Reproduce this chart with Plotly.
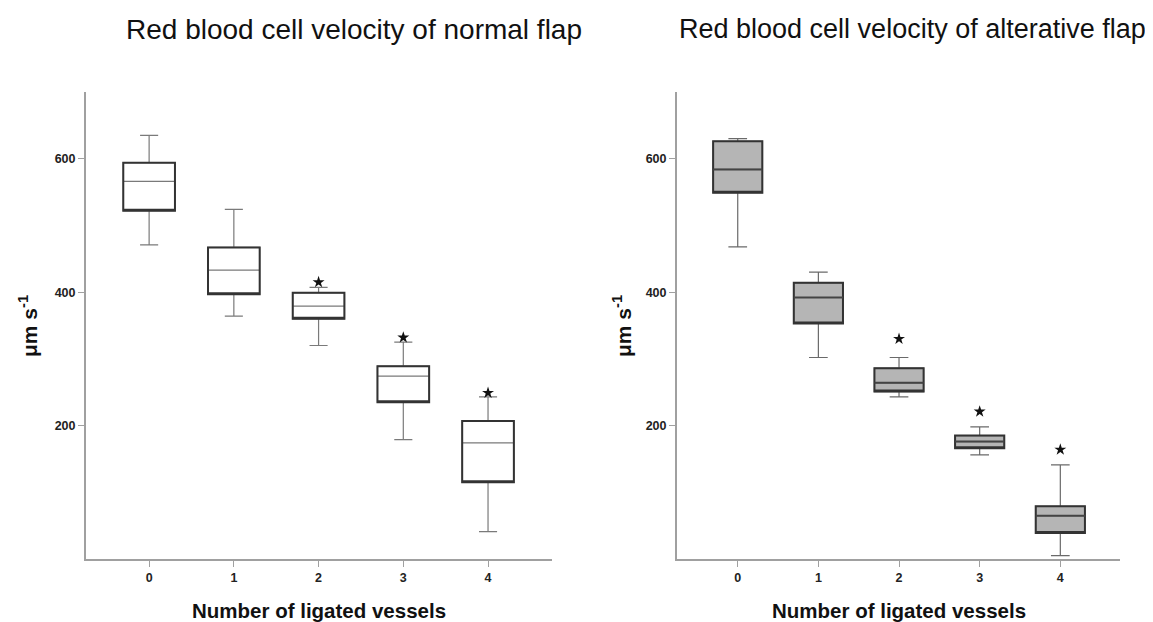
import plotly.graph_objects as go

categories = [0, 1, 2, 3, 4]

# Normal flap (left)
normal_upper = [635, 524, 407, 325, 243]
normal_q3 = [594, 467, 399, 289, 207]
normal_median = [566, 433, 379, 274, 174]
normal_q1 = [522, 397, 360, 235, 115]
normal_lower = [471, 364, 320, 179, 41]
normal_star_x = [2, 3, 4]
normal_star_y = [415, 332, 249]

# Alternative flap (right)
alt_upper = [630, 430, 302, 198, 141]
alt_q3 = [626, 414, 286, 185, 79]
alt_median = [584, 392, 264, 176, 65]
alt_q1 = [549, 353, 251, 166, 39]
alt_lower = [468, 302, 243, 156, 5]
alt_star_x = [2, 3, 4]
alt_star_y = [330, 221, 164]

titles = ["Red blood cell velocity of normal flap", "Red blood cell velocity of alterative flap"]
x_title = "Number of ligated vessels"
y_title = "μm s<sup>-1</sup>"

fig = go.Figure()

def add_panel(xa, ya, q1, med, q3, lo, hi, fill, whisk_col, med_col, sx, sy, ww):
    fig.add_trace(go.Box(
        x=categories, q1=q1, median=med, q3=q3, lowerfence=lo, upperfence=hi,
        fillcolor=fill, line=dict(color=whisk_col, width=1.2), width=0.61,
        whiskerwidth=ww, boxpoints=False, xaxis=xa, yaxis=ya, showlegend=False,
        hoverinfo="skip"))
    fig.add_trace(go.Box(
        x=categories, q1=q1, median=q1, q3=q3, lowerfence=q1, upperfence=q3,
        fillcolor="rgba(0,0,0,0)", line=dict(color="#333333", width=2), width=0.61,
        whiskerwidth=0, boxpoints=False, xaxis=xa, yaxis=ya, showlegend=False,
        hoverinfo="skip"))
    if med_col is not None:
        fig.add_trace(go.Box(
            x=categories, q1=med, median=med, q3=med, lowerfence=med, upperfence=med,
            fillcolor="rgba(0,0,0,0)", line=dict(color=med_col, width=2), width=0.61,
            whiskerwidth=0, boxpoints=False, xaxis=xa, yaxis=ya, showlegend=False,
            hoverinfo="skip"))
    fig.add_trace(go.Scatter(
        x=sx, y=sy, mode="markers", marker=dict(symbol="star", size=9, color="#111111"),
        xaxis=xa, yaxis=ya, showlegend=False, hoverinfo="skip"))

add_panel("x", "y", normal_q1, normal_median, normal_q3, normal_lower, normal_upper,
          "white", "#7a7a7a", None, normal_star_x, normal_star_y, 0.35)
add_panel("x2", "y2", alt_q1, alt_median, alt_q3, alt_lower, alt_upper,
          "#b5b5b5", "#6a6a6a", "#444444", alt_star_x, alt_star_y, 0.38)

OFF = 8  # page offset of the figure
W, H = 1145, 614

def px(x):
    return (x - OFF) / W

def py(y):
    return 1 - (y - OFF) / H

ydom = [py(559), py(92)]
axis_common = dict(showgrid=False, zeroline=False, showline=True, linecolor="#a0a0a0",
                   linewidth=2, ticks="outside", ticklen=6, tickcolor="#a0a0a0", tickwidth=1.2,
                   tickfont=dict(family="Liberation Sans, Arial", size=12.5, color="#222222", weight="bold"),
                   automargin=False)

fig.update_layout(
    width=W, height=H,
    margin=dict(l=0, r=0, t=0, b=0),
    plot_bgcolor="white", paper_bgcolor="white",
    boxmode="overlay",
    xaxis=dict(domain=[px(86), px(552)], range=[-0.745, 4.755], tickvals=categories,
               ticktext=[str(c) for c in categories], anchor="y", **axis_common),
    yaxis=dict(domain=ydom, range=[0, 700], tickvals=[200, 400, 600], anchor="x", **axis_common),
    xaxis2=dict(domain=[px(677), px(1120)], range=[-0.753, 4.74], tickvals=categories,
                ticktext=[str(c) for c in categories], anchor="y2", **axis_common),
    yaxis2=dict(domain=ydom, range=[0, 700], tickvals=[200, 400, 600], anchor="x2", **axis_common),
)

bold_font = dict(family="Liberation Sans, Arial", size=20.5, color="#111111", weight="bold")
ytitle_font = dict(family="Liberation Sans, Arial", size=21, color="#111111", weight="bold")

for cx, tx, fs in [(354, titles[0], 28), (912, titles[1], 27)]:
    fig.add_annotation(text=tx, x=px(cx), y=py(29), xref="paper", yref="paper",
                       xanchor="center", yanchor="middle", showarrow=False,
                       font=dict(family="Liberation Sans, Arial", size=fs, color="#111111"))
for cx in [319, 899]:
    fig.add_annotation(text=x_title, x=px(cx), y=py(610), xref="paper", yref="paper",
                       xanchor="center", yanchor="middle", showarrow=False, font=bold_font)
for cx in [28, 622]:
    fig.add_annotation(text=y_title, x=px(cx), y=py(326), xref="paper", yref="paper",
                       xanchor="center", yanchor="middle", showarrow=False, textangle=-90,
                       font=ytitle_font)

fig.write_html("out.html")
